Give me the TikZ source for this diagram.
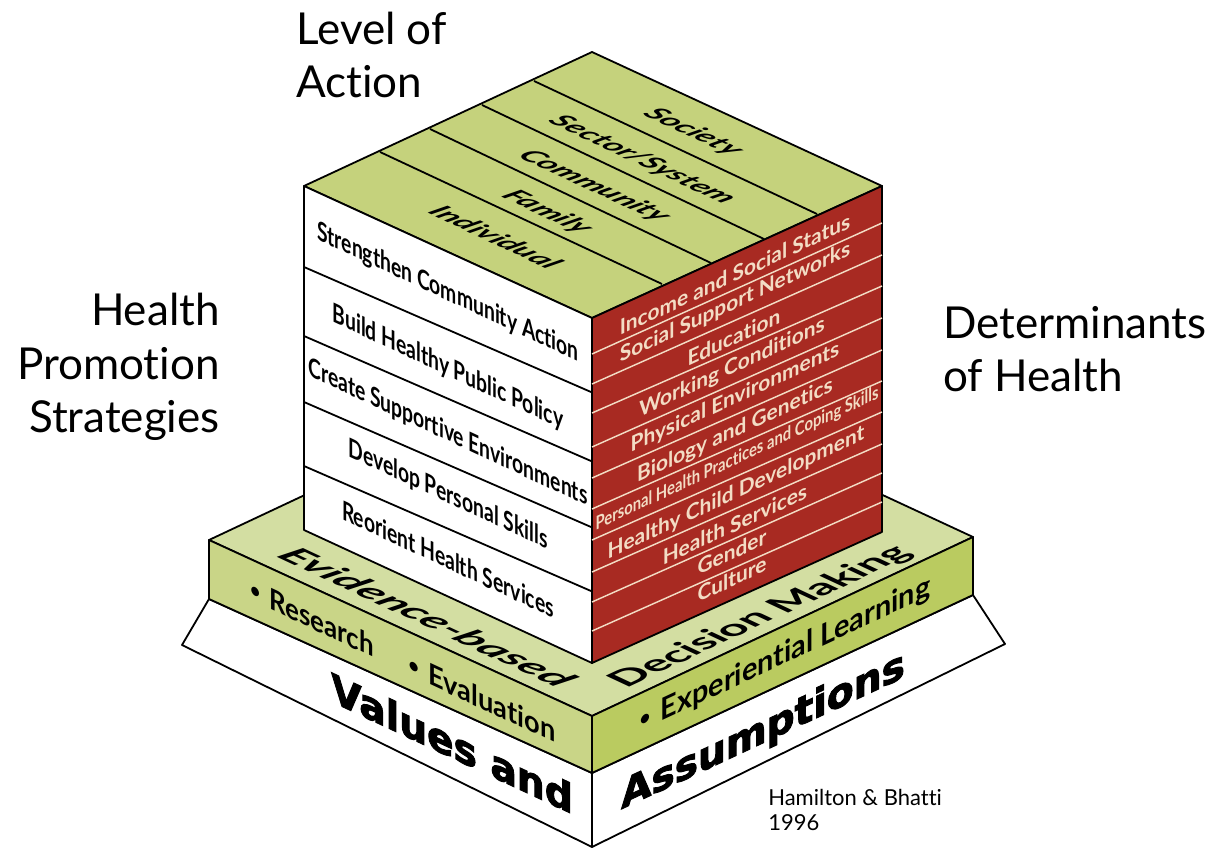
\documentclass[tikz,border=0pt]{standalone}
\usepackage{fontspec}
\setmainfont{Lato}[Ligatures=NoCommon]
\newfontfamily\heavyfont{DejaVu Sans}[BoldFeatures={FakeBold=2.5}]
\newcommand{\smalldot}{\raisebox{.14em}{\fontsize{15}{15}\selectfont•}\hspace{.35em}}
\definecolor{topgreen}{HTML}{C5D27C}
\definecolor{basegreen}{HTML}{D3DEA2}
\definecolor{sidegreen}{HTML}{C9D587}
\definecolor{darkgreen}{HTML}{BACB60}
\definecolor{brick}{HTML}{A82A22}
\definecolor{pale}{HTML}{F3DCC4}
\tikzset{
    edge/.style={line width=1.35pt,line join=round},
    title/.style={font=\fontsize{33}{40}\selectfont,inner sep=0pt},
    leftface/.style={cm={.906,-.423,0,1,(0,0)},font=\fontsize{#1}{#1}\selectfont\bfseries,inner sep=0pt,xscale=.8},
    rightface/.style={cm={.906,.423,0,1,(0,0)},font=\fontsize{#1}{#1}\selectfont\bfseries,text=pale,inner sep=0pt,xscale=1.08},
    topface/.style={cm={.906,-.423,.9,.42,(0,0)},font=\fontsize{#1}{#1}\selectfont\bfseries\itshape,inner sep=0pt,xscale=1.2},
    baseleft/.style={cm={.906,-.423,.9,.42,(0,0)},font=\fontsize{#1}{#1}\selectfont\bfseries\itshape,inner sep=0pt,xscale=1.36},
    baseright/.style={cm={.906,.423,-.9,.42,(0,0)},font=\fontsize{#1}{#1}\selectfont\bfseries,inner sep=0pt,xscale=1.19},
    heavyleft/.style={cm={.906,-.423,0,1,(0,0)},font=\fontsize{#1}{#1}\heavyfont\bfseries,inner sep=0pt,xscale=1.08},
    heavyright/.style={cm={.906,.423,0,1,(0,0)},font=\fontsize{#1}{#1}\heavyfont\bfseries,inner sep=0pt,xscale=1.08},
}
\begin{document}
\begin{tikzpicture}[x=.75pt,y=-.75pt]
\useasboundingbox (0,0) rectangle (1214,848);
\draw[edge,fill=white] (209,599)--(592,773)--(973,595)--(1005,644)--(592,847)--(182,645)--cycle;
\draw[edge] (592,773)--(592,847);
\draw[edge,fill=basegreen] (209,540)--(592,360)--(973,537)--(592,716)--cycle;
\draw[edge,fill=sidegreen] (209,540)--(592,716)--(592,773)--(209,599)--cycle;
\draw[edge,fill=darkgreen] (592,716)--(973,537)--(973,595)--(592,773)--cycle;
\draw[edge,fill=topgreen] (592,52)--(304,186)--(592,318)--(882,186)--cycle;
\draw[edge,fill=white] (304,186)--(592,318)--(592,663)--(304,530)--cycle;
\draw[edge,fill=brick] (592,318)--(882,186)--(882,532)--(592,663)--cycle;
\foreach \a/\b/\c/\d in {534/81/817/214,482/105/764/239,430/129/711/263,380/152/662/284} {
\draw[edge] (\a,\b)--(\c,\d);
}
\foreach \b/\d in {267/392,336/461,402/527,466/591} {
\draw[edge] (304,\b)--(591,\d);
}
\foreach \b/\d in {354/223,384/255,413/286,447/318,478/350,509/381,540/412,572/444,602/473,631/502} {
\draw[pale,line width=1.1pt] (592,\b)--(882,\d);
}
\node[title,align=left,anchor=west] (level) at (296,55) {Level of\\Action};
\node[title,align=right,anchor=east] (strategies) at (220,367) {Health\\Promotion\\Strategies};
\node[title,align=left,anchor=west] (determinants) at (943,349) {Determinants\\of Health};
\node[topface=20] (society) at (693,132) {Society};
\node[topface=20] (sector) at (642,160) {Sector/System};
\node[topface=20] (community) at (594,186) {Community};
\node[topface=20] (family) at (547,212) {Family};
\node[topface=20] (individual) at (496,237) {Individual};
\node[leftface=20] (strengthen) at (448,293) {Strengthen Community Action};
\node[leftface=20] (build) at (448,368) {Build Healthy Public Policy};
\node[leftface=20] (create) at (448,433) {Create Supportive Environments};
\node[leftface=20] (develop) at (448,495) {Develop Personal Skills};
\node[leftface=20] (reorient) at (448,559) {Reorient Health Services};
\node[rightface=16] (income) at (735,274) {Income and Social Status};
\node[rightface=16] (social) at (735,303) {Social Support Networks};
\node[rightface=16] (education) at (734,337) {Education};
\node[rightface=16] (working) at (732,368) {Working Conditions};
\node[rightface=16] (physical) at (735,398) {Physical Environments};
\node[rightface=16] (biology) at (735,431) {Biology and Genetics};
\node[rightface=14,xscale=.81] (personal) at (737,459) {Personal Health Practices and Coping Skills};
\node[rightface=16] (child) at (736,493) {Healthy Child Development};
\node[rightface=16] (services) at (735,524) {Health Services};
\node[rightface=16] (gender) at (732,552) {Gender};
\node[rightface=16] (culture) at (732,579) {Culture};
\node[baseleft=26] (evidence) at (428,617) {Evidence-based};
\node[baseright=27] (decision) at (761,617) {Decision Making};
\node[leftface=22,xscale=1.22] (research) at (312,618) {\smalldot Research};
\node[leftface=22,xscale=1.28] (evaluation) at (482,698) {\smalldot Evaluation};
\node[rightface=23,xscale=.96,text=black] (experiential) at (785,655) {\smalldot Experiential Learning};
\node[heavyleft=30] (values) at (452,743) {Values and};
\node[heavyright=30] (assumptions) at (763,732) {Assumptions};
\node[anchor=north west,align=left,inner sep=0pt,font=\fontsize{16.5}{19}\selectfont] (hamilton) at (768,789) {Hamilton \& Bhatti\\1996};
\end{tikzpicture}
\end{document}
